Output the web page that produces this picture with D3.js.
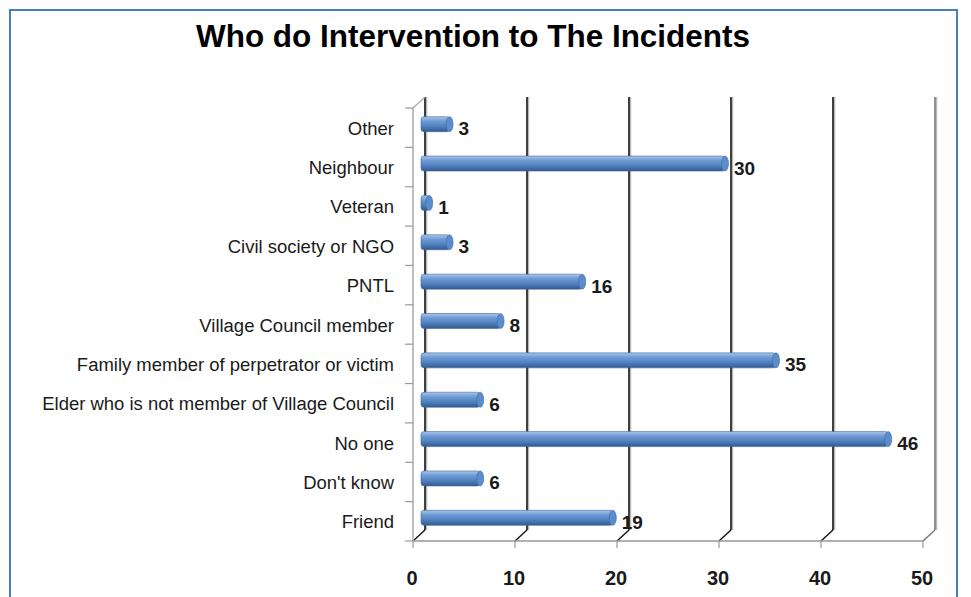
<!DOCTYPE html>
<html lang="en">
<head>
<meta charset="utf-8">
<title>Who do Intervention to The Incidents</title>
<script src="https://d3js.org/d3.v7.min.js"></script>
<style>
  body { margin: 0; background: #fff; }
  svg { display: block; }
</style>
</head>
<body>
<div id="chart"></div>
<script>
// data, top to bottom as shown
var categories = ["Other", "Neighbour", "Veteran", "Civil society or NGO", "PNTL",
  "Village Council member", "Family member of perpetrator or victim",
  "Elder who is not member of Village Council", "No one", "Don't know", "Friend"];
var counts = [3, 30, 1, 3, 16, 8, 35, 6, 46, 6, 19];
var xTicks = [0, 10, 20, 30, 40, 50];

var W = 971, H = 597;
var depth = {dx: 12, dy: -11};   // 3d offset front -> back wall

var svg = d3.select("#chart").append("svg")
  .attr("width", W).attr("height", H);

// outer frame
svg.append("rect")
  .attr("x", 10).attr("y", 10).attr("width", 947).attr("height", 600)
  .attr("fill", "#fff").attr("stroke", "#4a7ebb").attr("stroke-width", 2);

// title
svg.append("text")
  .attr("x", 473).attr("y", 47)
  .attr("text-anchor", "middle")
  .style("font-family", "'Liberation Sans Narrow', 'Liberation Sans', Arial, sans-serif")
  .style("font-weight", "bold").style("font-size", "32px")
  .attr("textLength", 554).attr("lengthAdjust", "spacingAndGlyphs")
  .text("Who do Intervention to The Incidents");

// scales (front plane)
var x = d3.scaleLinear().domain([0, 50]).range([413, 923]);
var y = d3.scaleBand().domain(categories).range([108, 541]);
var y0 = 108, y1 = 541;

var defs = svg.append("defs");
var grad = defs.append("linearGradient").attr("id", "barGrad")
  .attr("x1", 0).attr("y1", 0).attr("x2", 0).attr("y2", 1);
grad.append("stop").attr("offset", "0%").attr("stop-color", "#a9c6ec");
grad.append("stop").attr("offset", "30%").attr("stop-color", "#6f9ad4");
grad.append("stop").attr("offset", "65%").attr("stop-color", "#4f81bd");
grad.append("stop").attr("offset", "100%").attr("stop-color", "#33598f");

// back wall gridlines + floor diagonals
var grid = svg.append("g");
xTicks.forEach(function(t, i) {
  var xf = x(t), xb = x(t) + depth.dx;
  var col = i === xTicks.length - 1 ? "#777" : "#111";
  grid.append("line")
    .attr("x1", xb + 1.5).attr("x2", xb + 1.5)
    .attr("y1", y0 + depth.dy).attr("y2", y1 + depth.dy)
    .attr("stroke", "#bbb").attr("stroke-width", 1.5);
  grid.append("line")
    .attr("x1", xb).attr("x2", xb)
    .attr("y1", y0 + depth.dy).attr("y2", y1 + depth.dy)
    .attr("stroke", col).attr("stroke-width", 1.6);
  grid.append("line")
    .attr("x1", xb).attr("y1", y1 + depth.dy)
    .attr("x2", xf).attr("y2", y1)
    .attr("stroke", col).attr("stroke-width", 1.4);
});

// left wall
var wall = svg.append("g");
wall.append("line")
  .attr("x1", x(0)).attr("x2", x(0)).attr("y1", y0).attr("y2", y1)
  .attr("stroke", "#aaa").attr("stroke-width", 1.5);
wall.append("line")
  .attr("x1", x(0)).attr("y1", y0)
  .attr("x2", x(0) + depth.dx).attr("y2", y0 + depth.dy)
  .attr("stroke", "#aaa").attr("stroke-width", 1.2);
categories.concat([null]).forEach(function(c, i) {
  var yy = c === null ? y1 : y(c);
  wall.append("line")
    .attr("x1", x(0) - 8).attr("x2", x(0)).attr("y1", yy).attr("y2", yy)
    .attr("stroke", "#999").attr("stroke-width", 1.2);
});

// floor front edge + ticks
wall.append("line")
  .attr("x1", x(0)).attr("x2", x(50)).attr("y1", y1).attr("y2", y1)
  .attr("stroke", "#999").attr("stroke-width", 1.5);
xTicks.forEach(function(t) {
  wall.append("line")
    .attr("x1", x(t)).attr("x2", x(t)).attr("y1", y1).attr("y2", y1 + 7)
    .attr("stroke", "#999").attr("stroke-width", 1.2);
});

// tick labels
svg.append("g").selectAll("text").data(xTicks).join("text")
  .attr("x", function(d) { return x(d) - 1; })
  .attr("y", 585)
  .attr("text-anchor", "middle")
  .style("font-family", "'Liberation Sans', Arial, sans-serif")
  .style("font-weight", "bold").style("font-size", "20px")
  .attr("fill", "#1a1a1a")
  .text(function(d) { return d; });

// category labels
var catLabels = svg.append("g").selectAll("text").data(categories).join("text")
  .attr("x", 394)
  .attr("y", function(d) { return y(d) + y.bandwidth() / 2 + 7; })
  .attr("text-anchor", "end")
  .style("font-family", "'Liberation Sans', Arial, sans-serif")
  .style("font-size", "15px")
  .attr("fill", "#1a1a1a")
  .text(function(d) { return d; });
// fit longest label to the reference width
var longest = d3.max(catLabels.nodes(), function(n) { return n.getComputedTextLength(); });
var fs = 15 * 352 / longest;
catLabels.style("font-size", fs.toFixed(2) + "px");

// bars at mid-depth
var barH = 15;
var mx = depth.dx / 2, my = depth.dy / 2;
var rows = categories.map(function(c, i) { return {cat: c, v: counts[i]}; });
var bars = svg.append("g").selectAll("g").data(rows).join("g");
bars.append("rect")
  .attr("x", x(0) + mx + 2)
  .attr("y", function(d) { return y(d.cat) + y.bandwidth() / 2 + my - barH / 2 + 2; })
  .attr("width", function(d) { return Math.max(1, x(d.v) - x(0) - 2); })
  .attr("height", barH)
  .attr("rx", 3)
  .attr("fill", "url(#barGrad)")
  .attr("stroke", "#3d6aa5").attr("stroke-width", 0.6);
bars.append("ellipse")
  .attr("cx", function(d) { return x(d.v) + mx; })
  .attr("cy", function(d) { return y(d.cat) + y.bandwidth() / 2 + my + 2; })
  .attr("rx", 3.5).attr("ry", barH / 2)
  .attr("fill", "#5b8dcd").attr("stroke", "#3d6aa5").attr("stroke-width", 0.6);

// value labels
bars.append("text")
  .attr("x", function(d) { return x(d.v) + mx + 9; })
  .attr("y", function(d) { return y(d.cat) + y.bandwidth() / 2 + my + 13; })
  .style("font-family", "'Liberation Sans', Arial, sans-serif")
  .style("font-weight", "bold").style("font-size", "19px")
  .attr("fill", "#1a1a1a")
  .text(function(d) { return d.v; });
</script>
</body>
</html>
